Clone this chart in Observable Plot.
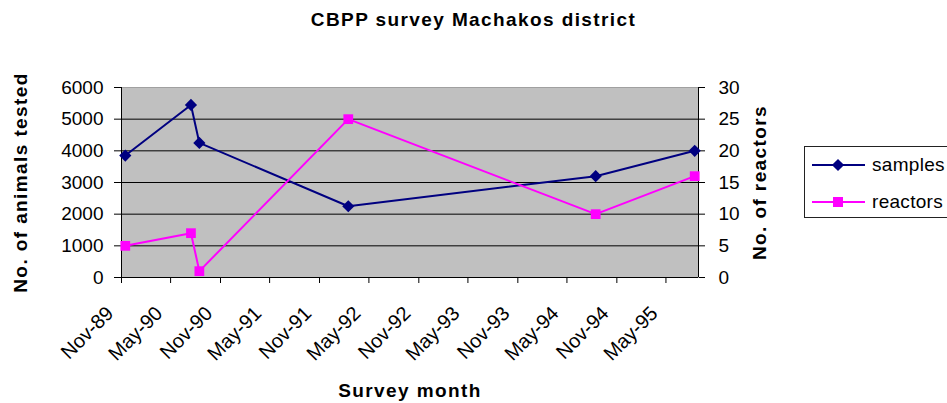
<!DOCTYPE html>
<html>
<head>
<meta charset="utf-8">
<script src="https://cdn.jsdelivr.net/npm/d3@7"></script>
<script src="https://cdn.jsdelivr.net/npm/@observablehq/plot@0.6"></script>
<style>
  html, body { margin: 0; padding: 0; background: #fff; overflow: hidden; }
  #wrap { position: relative; width: 947px; height: 403px; overflow: hidden; font-family: "Liberation Sans", Arial, sans-serif; }
  #title { height: 38px; line-height: 40px; text-align: center; font-size: 19px; font-weight: bold; letter-spacing: 1.4px; color: #000; white-space: nowrap; overflow: hidden; }
  #legend { position: absolute; left: 804px; top: 146px; width: 170px; height: 72px; border: 1px solid #222; background: #fff; box-sizing: border-box; }
  .row { position: absolute; left: 0; height: 20px; display: flex; align-items: center; }
  .row span { font-size: 19px; color: #000; margin-left: 7px; letter-spacing: 0.3px; }
  svg.sw { display: block; }
</style>
</head>
<body>
<div id="wrap">
  <div id="title">CBPP survey Machakos district</div>
  <div id="chart"></div>
  <div id="legend"></div>
</div>
<script>
// ---- data ----
const surveyDates = ["1989-11-15", "1990-07-15", "1990-08-15", "1992-02-15", "1994-08-15", "1995-08-15"];
const samples = [3850, 5450, 4250, 2250, 3200, 4000];
const reactors = [5, 7, 1, 25, 10, 16];
const xTickLabels = ["Nov-89", "May-90", "Nov-90", "May-91", "Nov-91", "May-92", "Nov-92", "May-93", "Nov-93", "May-94", "Nov-94", "May-95"];
const leftTicks = [0, 1000, 2000, 3000, 4000, 5000, 6000];
const rightTicks = [0, 5, 10, 15, 20, 25, 30];
const seriesNames = ["samples", "reactors"];
const seriesColors = ["#000080", "#FF00FF"];

// ---- derived ----
const ratio = leftTicks[leftTicks.length - 1] / rightTicks[rightTicks.length - 1];
const parseTick = d3.utcParse("%b-%y");
const xTickDates = xTickLabels.map(parseTick);
const xDomain = [new Date("1989-11-01"), new Date("1995-08-29")];
const table = surveyDates.map((d, i) => ({
  date: new Date(d),
  samples: samples[i],
  reactorsScaled: reactors[i] * ratio
}));

const chart = Plot.plot({
  width: 947,
  height: 365,
  marginLeft: 121,
  marginRight: 249,
  marginTop: 49,
  marginBottom: 126,
  style: { fontFamily: "'Liberation Sans', Arial, sans-serif", color: "#000", background: "transparent", overflow: "visible" },
  x: { type: "utc", domain: xDomain },
  y: { domain: [leftTicks[0], leftTicks[leftTicks.length - 1]] },
  marks: [
    Plot.frame({ fill: "#C0C0C0", stroke: "#a0a0a0" }),
    Plot.gridY(leftTicks.slice(1, -1), { stroke: "#000", strokeOpacity: 1 }),
    Plot.ruleY([leftTicks[0]], { stroke: "#000" }),
    Plot.ruleX(xDomain, { stroke: "#000" }),
    Plot.axisY({ ticks: leftTicks, tickSize: 7, tickPadding: 11, fontSize: 19, label: null, tickFormat: d => String(d) }),
    Plot.axisY({ anchor: "right", ticks: leftTicks, tickSize: 6, tickPadding: 14, fontSize: 19, label: null, tickFormat: d => String(d / ratio) }),
    // tick marks only
    Plot.axisX({ ticks: xTickDates, tickSize: 6, label: null, tickFormat: () => "" }),
    // rotated tick labels only
    Plot.axisX({ ticks: xTickDates, tickSize: 0, tickPadding: 10, fontSize: 20, tickRotate: -45, dx: -11.5, dy: 22.5, label: null, tickFormat: d3.utcFormat("%b-%y") }),
    Plot.line(table, { x: "date", y: "samples", stroke: seriesColors[0], strokeWidth: 2 }),
    Plot.dot(table, { x: "date", y: "samples", symbol: "diamond2", fill: seriesColors[0], r: 5.5 }),
    Plot.line(table, { x: "date", y: "reactorsScaled", stroke: seriesColors[1], strokeWidth: 2 }),
    Plot.dot(table, { x: "date", y: "reactorsScaled", symbol: "square", fill: seriesColors[1], r: 5.5 }),
    Plot.text(["No. of animals tested"], { frameAnchor: "left", dx: -101, rotate: -90, textAnchor: "middle", fontSize: 19, fontWeight: "bold", fill: "#000" }),
    Plot.text(["No. of reactors"], { frameAnchor: "right", dx: 61, rotate: -90, textAnchor: "middle", fontSize: 19, fontWeight: "bold", fill: "#000" }),
    Plot.text(["Survey month"], { frameAnchor: "bottom", dy: 119, fontSize: 19, fontWeight: "bold", fill: "#000" })
  ]
});
d3.select(chart).selectAll('g[aria-label="text"] text').style("letter-spacing", "1.4px");
document.getElementById("chart").appendChild(chart);

// ---- legend ----
const legend = d3.select("#legend");
const rowTops = [8, 45];
seriesNames.forEach((name, i) => {
  const row = legend.append("div").attr("class", "row").style("top", rowTops[i] + "px").style("left", "7px");
  const sw = row.append("svg").attr("class", "sw").attr("width", 53).attr("height", 20);
  sw.append("line").attr("x1", 0).attr("x2", 53).attr("y1", 10).attr("y2", 10).attr("stroke", seriesColors[i]).attr("stroke-width", 2);
  if (i === 0) {
    sw.append("path").attr("d", d3.symbol(d3.symbolDiamond2, 95)()).attr("transform", "translate(26,10)").attr("fill", seriesColors[i]);
  } else {
    sw.append("rect").attr("x", 21).attr("y", 5).attr("width", 10).attr("height", 10).attr("fill", seriesColors[i]);
  }
  row.append("span").text(name);
});
</script>
</body>
</html>
